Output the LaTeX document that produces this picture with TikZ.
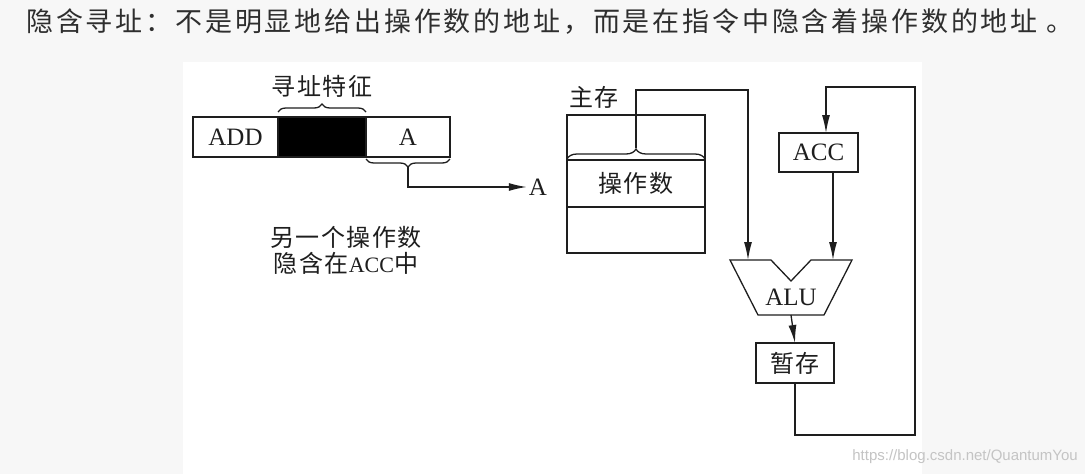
\documentclass[tikz,border=0pt]{standalone}
\usepackage{fontspec}
\setmainfont{Liberation Serif}
\setsansfont{Liberation Sans}
\newfontfamily\cjk[LetterSpace=6]{Noto Sans CJK SC}
\newfontfamily\cjktitle[LetterSpace=10.5]{Noto Sans CJK SC}
\usetikzlibrary{arrows.meta,positioning,calc,decorations.pathreplacing}
\definecolor{Paper}{HTML}{F7F7F7}
\definecolor{Ink}{HTML}{1E1E1E}
\definecolor{Title}{HTML}{2E2E2E}
\definecolor{Mark}{HTML}{C4C4C4}

\begin{document}
\begin{tikzpicture}[x=1pt,y=-1pt,
    box/.style={draw=Ink,line width=1.3pt,inner sep=0pt,outer sep=0pt,minimum height=40pt},
    zh/.style={font=\cjk\fontsize{24}{26}\selectfont,text=Ink},
    en/.style={font=\fontsize{25}{27}\selectfont,text=Ink},
    wire/.style={draw=Ink,line width=1.3pt},
    arr/.style={wire,-{Latex[length=18pt,width=8pt]}},
    brc/.style={wire,decorate,decoration={brace,amplitude=8pt}}]
    \fill[Paper] (0,0) rectangle (1085,474);
    \fill[white] (183,62) rectangle (922,474);
    \useasboundingbox (0,0) rectangle (1085,474);

    \node[anchor=west,inner sep=0pt,font=\cjktitle\fontsize{27}{30}\selectfont,text=Title] (title) at (26,22)
      {隐含寻址：不是明显地给出操作数的地址，而是在指令中隐含着操作数的地址 。};

    % instruction word
    \node[box,en,minimum width=85pt] (add) at (235.5,137) {ADD};
    \node[box,fill=black,minimum width=88pt,right=0pt of add] (feat) {};
    \node[box,en,minimum width=84pt,right=0pt of feat] (adr) {A};
    \draw[brc] ([yshift=5pt]feat.north west) -- ([yshift=5pt]feat.north east)
      node[midway,zh,inner sep=0pt,above=14pt] (featlab) {寻址特征};
    \draw[brc] ([yshift=-2pt]adr.south east) -- ([yshift=-2pt]adr.south west);
    \coordinate (adrtip) at ([yshift=-10pt]adr.south);
    \node[en,inner sep=2pt] (aout) at (538,187) {A};
    \draw[arr] (adrtip) |- (aout.west);
    \node[zh,align=center,inner sep=0pt] (note) at (346,250)
      {另一个操作数\\隐含在{\rmfamily\fontsize{22}{26}\selectfont ACC}中};

    % main memory
    \node[zh,anchor=south west,inner sep=0pt] (memlab) at (569,109) {主存};
    \node[box,minimum width=138pt,minimum height=138pt] (mem) at (636,184) {};
    \node[box,zh,minimum width=138pt,minimum height=47pt] (opnd) at (636,183.5) {操作数};
    \draw[brc,decoration={amplitude=10pt}] ([yshift=1pt]opnd.north west) -- ([yshift=1pt]opnd.north east);
    \coordinate (memtip) at ([yshift=12pt]opnd.north);

    % ALU, ACC and buffer
    \draw[wire,fill=white] (730,260) -- (771,260) -- (791,281) -- (811,260) -- (852,260)
      -- (824,315) -- (758,315) -- cycle;
    \node[en] (alu) at (791,297) {ALU};
    \coordinate (aluL) at (748,260);
    \coordinate (aluR) at (833,260);
    \coordinate (aluB) at (791,315);
    \node[box,en,minimum width=79pt,minimum height=39pt] (acc) at (818.5,152.5) {ACC};
    \node[box,zh,minimum width=78pt] (tmp) at (795,363) {暂存};

    \coordinate (busT) at (748,90);
    \coordinate (loopB) at (915,435);
    \coordinate (loopT) at (826,87);
    \draw[arr] (memtip) |- (busT) -- (aluL);
    \draw[arr] (acc.south -| aluR) -- (aluR);
    \draw[arr] (aluB) -- (tmp.north);
    \draw[arr] (tmp.south) |- (loopB) |- (loopT) -- (acc.north -| loopT);

    \node[anchor=east,inner sep=0pt,font=\sffamily\fontsize{15}{15}\selectfont,text=Mark] (wm) at (1078,457)
      {https://blog.csdn.net/QuantumYou};
\end{tikzpicture}
\end{document}
